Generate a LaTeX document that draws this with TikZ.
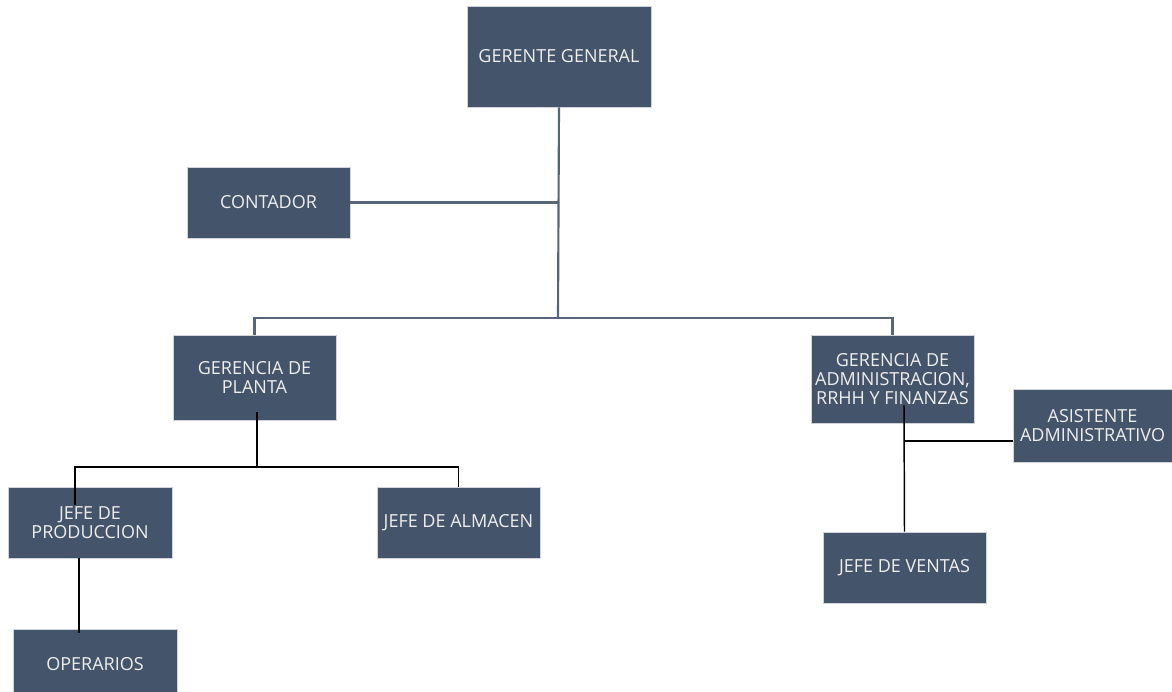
\documentclass[tikz,border=0pt]{standalone}
\usepackage{fontspec}
\setmainfont{Open Sans}
\usetikzlibrary{positioning,calc}
\definecolor{boxblue}{HTML}{44546A}
\definecolor{boxtext}{HTML}{EEEEEE}
\begin{document}
\begin{tikzpicture}[x=0.75pt,y=-0.75pt,
	puesto/.style={fill=boxblue,draw=boxblue!25,line width=0.4pt,text=boxtext,align=center,inner sep=0pt,
		font=\fontsize{13.5}{14.3}\selectfont},
	linea/.style={draw=boxblue!90,line width=1.6pt},
	lineanegra/.style={draw=black,line width=1.1pt}]
	\useasboundingbox (0,0) rectangle (1172,692);
	%Notation: {name / centre x / centre y / width / height / text}, all in pixels
	\foreach \nm/\cx/\cy/\w/\h/\txt in {
		gg/559/56.5/184/101/{GERENTE GENERAL},
		contador/268.5/202.5/163/71/{CONTADOR},
		planta/254.5/377.5/163/85/{GERENCIA DE\\PLANTA},
		adm/892.5/379/163/88/{GERENCIA DE\\ADMINISTRACION,\\RRHH Y FINANZAS},
		asis/1092.5/425.5/159/73/{ASISTENTE\\ADMINISTRATIVO},
		prod/90/522.5/164/71/{JEFE DE\\PRODUCCION},
		alm/458.5/522.5/163/71/{JEFE DE ALMACEN},
		ventas/904.5/567.5/163/71/{JEFE DE VENTAS},
		oper/95/664.5/164/71/{OPERARIOS}}{
		\node[puesto,minimum width=0.75*\w pt,minimum height=0.75*\h pt] (\nm) at (\cx,\cy) {\txt};% Draw the box
	}
	% Upper level (slate lines)
	\coordinate (bus) at (558,318);
	\draw[linea] (gg.south) -- (bus);
	\draw[linea] (contador.east) -- (contador.east -| bus);
	\draw[linea] (planta.north) |- (bus) -| (adm.north);
	% Gerencia de planta
	\coordinate (pj) at (257,467);
	\coordinate (prodin) at (75,505);
	\draw[lineanegra] (257,412) -- (pj);
	\draw[lineanegra] (prodin) |- (pj) -| (alm.north);
	\draw[lineanegra] ([xshift=-8.25pt]prod.south) -- ++(0,75);% down to operarios
	% Gerencia de administracion
	\coordinate (aj) at (904,441);
	\draw[lineanegra] (904,405) -- (ventas.north);
	\draw[lineanegra] (aj) -- (aj -| asis.west);
\end{tikzpicture}
\end{document}
